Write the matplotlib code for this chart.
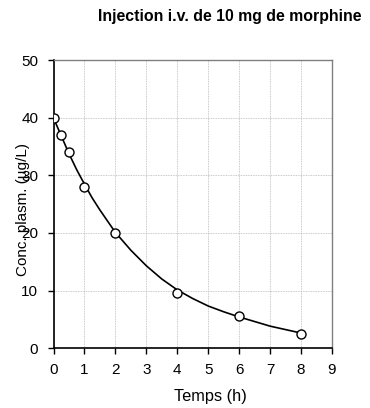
import matplotlib
matplotlib.use("Agg")
import matplotlib.pyplot as plt

plt.rcParams["font.family"] = ["Liberation Sans", "DejaVu Sans"]

# measured concentrations
temps = [0, 0.25, 0.5, 1, 2, 4, 6, 8]
conc = [40, 37, 34, 28, 20, 9.5, 5.5, 2.5]

# fitted curve
curve_t = [0, 0.25, 0.5, 0.75, 1, 1.25, 1.5, 2, 2.5, 3, 3.5, 4, 4.5, 5, 5.5, 6, 6.5, 7, 7.5, 8]
curve_c = [40, 36.9, 33.8, 31.0, 28.5, 26.1, 24.0, 20.1, 17.0, 14.3, 12.0, 10.1, 8.6, 7.3, 6.3, 5.4, 4.6, 3.8, 3.2, 2.6]

xticks = list(range(0, 10))
yticks = [0, 10, 20, 30, 40, 50]

fig = plt.figure(figsize=(3.70, 4.08), dpi=100)
W, H = 370, 408
ax = fig.add_axes([53.5 / W, 1 - 348 / H, (332 - 53.5) / W, (348 - 60.5) / H])

ax.plot(curve_t, curve_c, color="black", lw=1.2, zorder=3)
ax.plot(temps, conc, "o", ms=6.5, mfc="white", mec="black", mew=1.0, zorder=4)

ax.set_xlim(0, 9)
ax.set_ylim(0, 50)
ax.set_xticks(xticks)
ax.set_yticks(yticks)
ax.grid(True, color="#b8b8b8", lw=0.6, ls=(0, (1, 1)))
ax.set_axisbelow(True)

for s in ["top", "right"]:
    ax.spines[s].set_color("#808080")
    ax.spines[s].set_linewidth(1.0)
for s in ["left", "bottom"]:
    ax.spines[s].set_color("black")
    ax.spines[s].set_linewidth(1.2)

ax.tick_params(direction="out", length=4, width=1, pad=7, labelsize=11,
               top=False, right=False)

fig.text(230 / W, 1 - 17 / H, "Injection i.v. de 10 mg de morphine",
         ha="center", va="center", fontsize=11.4, fontweight="bold")
fig.text(210 / W, 1 - 397 / H, "Temps (h)", ha="center", va="center", fontsize=11.8)
fig.text(23 / W, 1 - 209 / H, "Conc. plasm. (µg/L)", ha="center", va="center",
         rotation=90, fontsize=11)

fig.savefig("out.png", dpi=100)
